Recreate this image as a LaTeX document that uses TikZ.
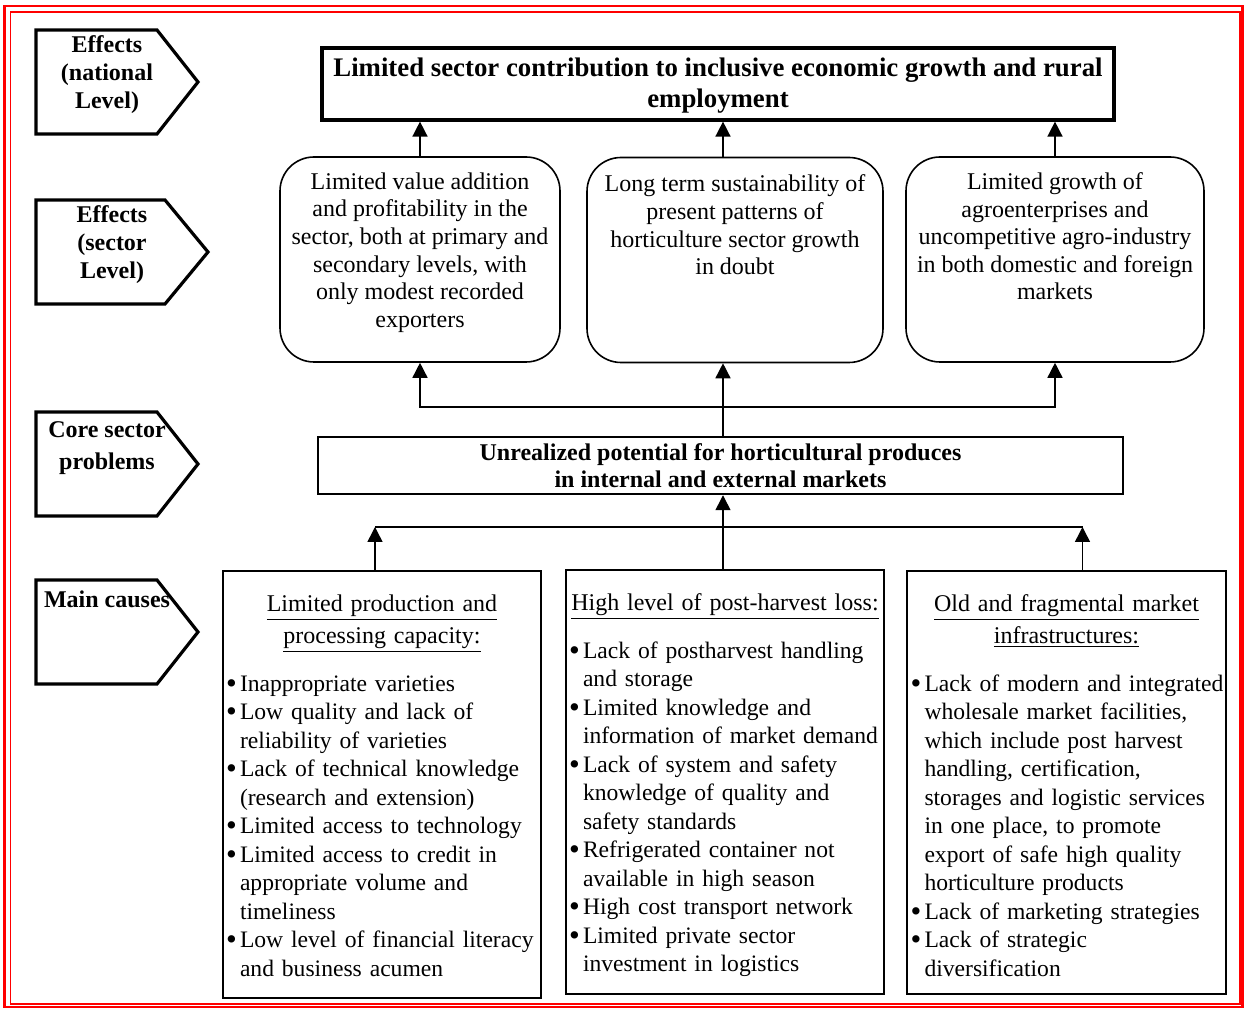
\documentclass[tikz,border=0pt]{standalone}
\usepackage{fontspec}
\setmainfont{Liberation Serif}
\usetikzlibrary{arrows.meta,positioning}

\newcommand{\pitem}{\par\hangindent=7pt\hangafter=1\noindent\makebox[7pt][l]{\rlap{\raisebox{-1pt}{\scalebox{1.3}{\textbullet}}}}}
\newcommand{\ctitle}[1]{{\fontsize{12}{16}\selectfont\centering #1\par}\vspace{9.75pt}}

\begin{document}
\begin{tikzpicture}[
  x=0.5pt, y=-0.5pt,
  topbox/.style={draw,line width=1.6pt,minimum width=396pt,minimum height=36pt,inner sep=1pt,align=center,font=\bfseries\fontsize{13.4}{15.5}\selectfont},
  effbox/.style={draw,line width=0.8pt,rounded corners=17pt,minimum height=102.5pt},
  efftext/.style={align=center,inner sep=0pt,font=\fontsize{12}{13.8}\selectfont},
  corebox/.style={draw,line width=1pt,minimum width=402.5pt,minimum height=28.5pt,align=center,font=\bfseries\fontsize{12}{13.5}\selectfont},
  causebox/.style={draw,line width=1pt,minimum width=159pt},
  causetext/.style={text width=156pt,inner sep=0pt,font=\fontsize{11.8}{14.25}\selectfont},
  tagline/.style={line width=1.6pt},
  tagtext/.style={align=center,inner sep=0pt,font=\bfseries\fontsize{12}{14}\selectfont},
  arr/.style={-{Triangle[length=7.5pt,width=7.5pt]},line width=0.75pt}
]
\useasboundingbox (0,0) rectangle (1244,1010);
% page frame
\draw[red,line width=1.2pt] (4.5,6) rectangle (1242.5,1007);
\draw[red,line width=0.8pt] (10.5,12) rectangle (1240,1004);

% level tags on the left
\foreach \ytop/\xs/\xt in {30/157/198, 200/165/208, 412/157/198, 580/157/198}
  \draw[tagline] (36,\ytop) -- (\xs,\ytop) -- (\xt,\ytop+52) -- (\xs,\ytop+104) -- (36,\ytop+104) -- cycle;
\node[tagtext] (lvl1) at (107,75) {Effects\\(national\\Level)};
\node[tagtext] (lvl2) at (112,245) {Effects\\(sector\\Level)};
\node[tagtext,font=\bfseries\fontsize{12}{16}\selectfont] (lvl3) at (107,448) {Core sector\\problems};
\node[tagtext] (lvl4) at (107,599) {Main causes};

% Row 1: national effect
\node[topbox] (top) at (718,84) {\rule{0pt}{11pt}Limited sector contribution to inclusive economic growth and rural\\employment};

% Row 2: sector effects
\node[effbox,minimum width=140pt] (v1) at (420,259.5) {};
\node[effbox,minimum width=148pt] (v2) at (735,260) {};
\node[effbox,minimum width=149pt] (v3) at (1055,259.5) {};
\node[efftext,below=8pt of v1.north] (v1t) {Limited value addition\\and profitability in the\\sector, both at primary and\\secondary levels, with\\only modest recorded\\exporters};
\node[efftext,below=9pt of v2.north] (v2t) {Long term sustainability of\\present patterns of\\horticulture sector growth\\in doubt};
\node[efftext,below=8pt of v3.north] (v3t) {Limited growth of\\agroenterprises and\\uncompetitive agro-industry\\in both domestic and foreign\\markets};

% Row 3: core problem
\node[corebox] (core) at (720.5,465.5) {Unrealized potential for horticultural produces\\in internal and external markets};

% Row 4: main causes
\node[causebox,minimum height=213.5pt] (c1) at (382,784.5) {};
\node[causebox,minimum height=212pt] (c2) at (725,782) {};
\node[causebox,minimum height=211.5pt,minimum width=159.5pt] (c3) at (1066.5,782.5) {};
\node[causetext,below=12pt of c1.north] (c1t) {\raggedright\ctitle{\underline{Limited production and}\\\underline{processing capacity:}}%
  \pitem Inappropriate varieties
  \pitem Low quality and lack of\newline reliability of varieties
  \pitem Lack of technical knowledge\newline (research and extension)
  \pitem Limited access to technology
  \pitem Limited access to credit in\newline appropriate volume and\newline timeliness
  \pitem Low level of financial literacy\newline and business acumen\par};
\node[causetext,below=12pt of c2.north] (c2t) {\raggedright\ctitle{\underline{High level of post-harvest loss:}}%
  \pitem Lack of postharvest handling\newline and storage
  \pitem Limited knowledge and\newline information of market demand
  \pitem Lack of system and safety\newline knowledge of quality and\newline safety standards
  \pitem Refrigerated container not\newline available in high season
  \pitem High cost transport network
  \pitem Limited private sector\newline investment in logistics\par};
\node[causetext,below=12pt of c3.north] (c3t) {\raggedright\ctitle{\underline{Old and fragmental market}\\\underline{infrastructures:}}%
  \pitem \mbox{Lack of modern and integrated}\newline wholesale market facilities,\newline which include post harvest\newline handling, certification,\newline storages and logistic services\newline in one place, to promote\newline export of safe high quality\newline horticulture products
  \pitem Lack of marketing strategies
  \pitem Lack of strategic\newline diversification\par};

% connectors
\coordinate (fork1) at (723,407);
\coordinate (fork2) at (723,527);
\draw[arr] (v1.north) -- (v1.north |- top.south);
\draw[arr] (v2.north -| fork1) -- (top.south -| fork1);
\draw[arr] (v3.north) -- (v3.north |- top.south);
\draw[arr] (core.north -| fork1) -- (v2.south -| fork1);
\draw[arr] (fork1) -| (v1.south);
\draw[arr] (fork1) -| (v3.south);
\draw[arr] (c2.north -| fork2) -- (core.south -| fork2);
\coordinate (l1) at ([xshift=-3.5pt]c1.north);
\coordinate (l3) at ([xshift=8pt]c3.north);
\draw[arr] (l1) -- (l1 |- fork2);
\draw[arr] (l3) -- (l3 |- fork2);
\draw[line width=0.75pt] (l1 |- fork2) -- (l3 |- fork2);
\end{tikzpicture}
\end{document}
